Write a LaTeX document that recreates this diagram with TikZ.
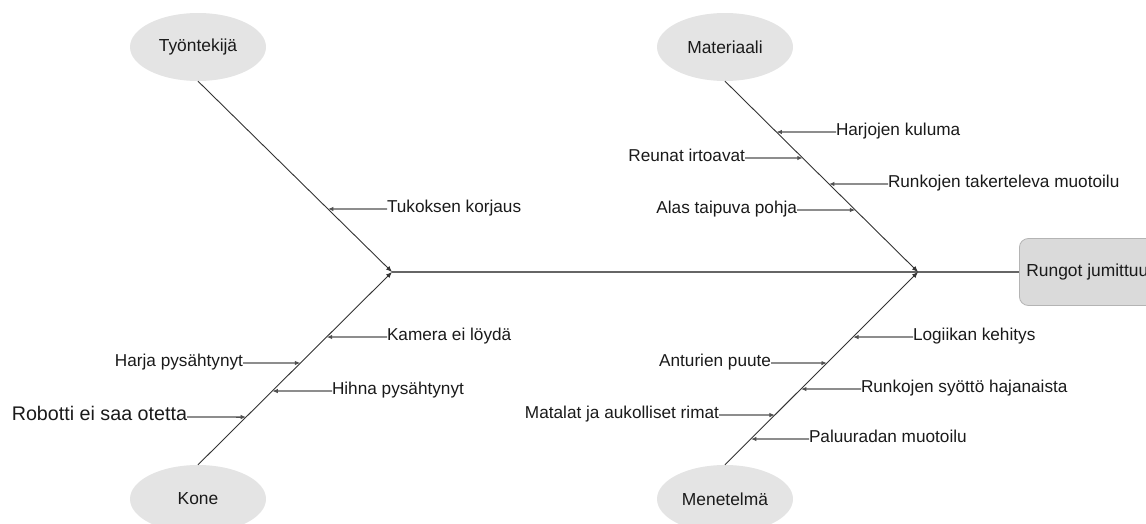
\documentclass[tikz,border=0pt]{standalone}
\usepackage{fontspec}
\setmainfont{Liberation Sans}
\usetikzlibrary{arrows.meta,shapes.geometric}

\definecolor{ellfill}{HTML}{E4E4E4}
\definecolor{headfill}{HTML}{DADADA}
\definecolor{headline}{HTML}{B4B4B4}
\definecolor{boneline}{HTML}{333333}
\definecolor{causeline}{HTML}{505050}
\definecolor{spineline}{HTML}{666666}
\definecolor{txt}{HTML}{1A1A1A}

\tikzset{
  category/.style={ellipse, fill=ellfill, draw=none, minimum width=136pt,
    minimum height=68pt, inner sep=0pt, text=txt,
    font=\fontsize{17.4}{20}\selectfont},
  headbox/.style={rectangle, rounded corners=9pt, fill=headfill, draw=headline,
    line width=0.8pt, minimum height=67pt, inner xsep=7pt, anchor=west,
    text=txt, font=\fontsize{17.4}{20}\selectfont},
  cause/.style={inner sep=0pt, outer sep=0pt, text=txt, text height=0.62em,
    text depth=0pt, font=\fontsize{17.2}{20}\selectfont},
  bigcause/.style={cause, font=\fontsize{19.7}{22}\selectfont},
  bone/.style={draw=boneline, line width=0.9pt,
    -{Latex[length=6pt,width=5pt]}},
  branch/.style={draw=causeline, line width=1.4pt,
    -{Latex[length=5.5pt,width=4.5pt]}},
  spine/.style={draw=spineline, line width=1.7pt},
}

\begin{document}
\begin{tikzpicture}[x=1pt,y=-1pt]
\useasboundingbox (0,0) rectangle (1146,524);

% main categories
\node[category] (tyo)  at (198,47)  {Työntekijä};
\node[category] (mat)  at (725,47)  {Materiaali};
\node[category] (kone) at (198,499) {Kone};
\node[category] (men)  at (725,499) {Menetelmä};

% effect
\node[headbox] (head) at (1019,272) {Rungot jumittuu};

% junctions on the spine
\coordinate (jL) at (392,272);
\coordinate (jR) at (918,272);

% spine
\draw[spine] (jL) -- (jR) -- (head.west);

% bones
\draw[bone] (tyo.south)  -- (jL);
\draw[bone] (kone.north) -- (jL);
\draw[bone] (mat.south)  -- (jR);
\draw[bone] (men.north)  -- (jR);

% causes: Työntekijä
\node[cause, anchor=west] (a1) at (387,209) {Tukoksen korjaus};
\draw[branch] (a1.west) -- (intersection of tyo.south--jL and a1.west--a1.east);

% causes: Kone
\node[cause, anchor=west] (k1) at (387,337) {Kamera ei löydä};
\node[cause, anchor=east] (k2) at (243,363) {Harja pysähtynyt};
\node[cause, anchor=west] (k3) at (332,391) {Hihna pysähtynyt};
\node[bigcause, anchor=east] (k4) at (187,417) {Robotti ei saa otetta};
\draw[branch] (k1.west) -- (intersection of kone.north--jL and k1.west--k1.east);
\draw[branch] (k2.east) -- (intersection of kone.north--jL and k2.west--k2.east);
\draw[branch] (k3.west) -- (intersection of kone.north--jL and k3.west--k3.east);
\draw[branch] (k4.east) -- (intersection of kone.north--jL and k4.west--k4.east);

% causes: Materiaali
\node[cause, anchor=west] (m1) at (836,132) {Harjojen kuluma};
\node[cause, anchor=east] (m2) at (745,158) {Reunat irtoavat};
\node[cause, anchor=west] (m3) at (888,184) {Runkojen takerteleva muotoilu};
\node[cause, anchor=east] (m4) at (797,210) {Alas taipuva pohja};
\draw[branch] (m1.west) -- (intersection of mat.south--jR and m1.west--m1.east);
\draw[branch] (m2.east) -- (intersection of mat.south--jR and m2.west--m2.east);
\draw[branch] (m3.west) -- (intersection of mat.south--jR and m3.west--m3.east);
\draw[branch] (m4.east) -- (intersection of mat.south--jR and m4.west--m4.east);

% causes: Menetelmä
\node[cause, anchor=west] (n1) at (913,337) {Logiikan kehitys};
\node[cause, anchor=east] (n2) at (771,363) {Anturien puute};
\node[cause, anchor=west] (n3) at (861,389) {Runkojen syöttö hajanaista};
\node[cause, anchor=east] (n4) at (719,415) {Matalat ja aukolliset rimat};
\node[cause, anchor=west] (n5) at (809,439) {Paluuradan muotoilu};
\draw[branch] (n1.west) -- (intersection of men.north--jR and n1.west--n1.east);
\draw[branch] (n2.east) -- (intersection of men.north--jR and n2.west--n2.east);
\draw[branch] (n3.west) -- (intersection of men.north--jR and n3.west--n3.east);
\draw[branch] (n4.east) -- (intersection of men.north--jR and n4.west--n4.east);
\draw[branch] (n5.west) -- (intersection of men.north--jR and n5.west--n5.east);
\end{tikzpicture}
\end{document}
